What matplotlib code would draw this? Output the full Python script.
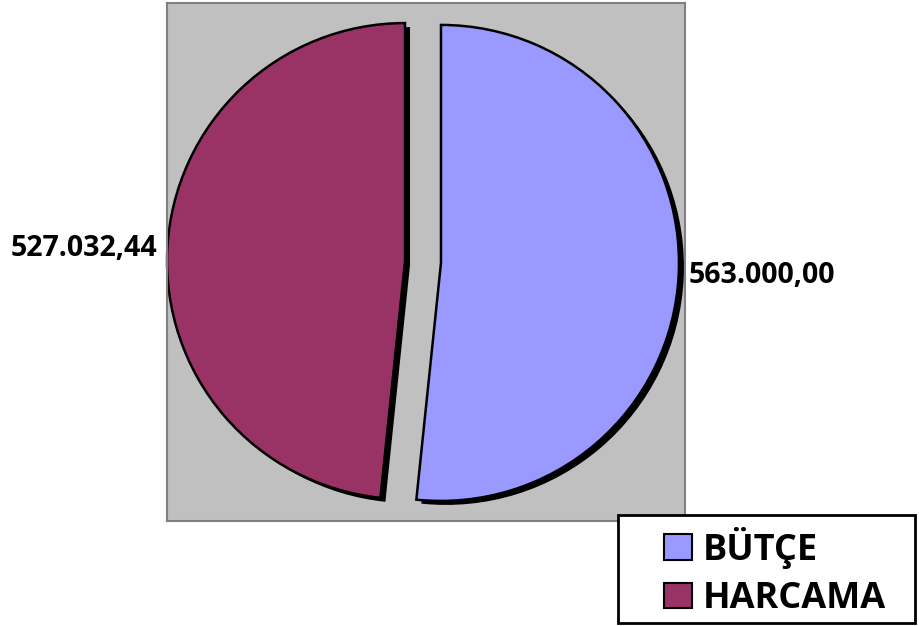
import matplotlib
matplotlib.use("Agg")
import matplotlib.pyplot as plt
from matplotlib.patches import Patch, Rectangle

categories = ['BÜTÇE', 'HARCAMA']
values = [563000.00, 527032.44]
colors = ['#9999FF', '#993366']


def tr_fmt(v):
    s = f"{v:,.2f}"
    return s.replace(',', 'X').replace('.', ',').replace('X', '.')


W, H = 920, 626
fig = plt.figure(figsize=(W / 100, H / 100), dpi=100)
fig.patch.set_facecolor('white')

ax = fig.add_axes([167 / W, (H - 521) / H, 518 / W, 518 / H])
ax.set_facecolor('#C0C0C0')

R = 238
explode = [18, 18]
FONT = 'Open Sans'

# shadow
ax.pie(values, radius=R, center=(5, -4), startangle=90, counterclock=False,
       explode=explode, colors=['black', 'black'], frame=True,
       wedgeprops=dict(linewidth=0))
# main pie
ax.pie(values, radius=R, center=(0, 0), startangle=90, counterclock=False,
       explode=explode, colors=colors,
       labels=[tr_fmt(v) for v in values], labeldistance=1.04,
       textprops=dict(fontsize=20.5, fontweight='bold', family=FONT, color='black'),
       wedgeprops=dict(edgecolor='black', linewidth=1.8), frame=True)

ax.set_xlim(-256, 262)
ax.set_ylim(-259, 259)
ax.set_aspect('equal')
ax.set_xticks([])
ax.set_yticks([])
for s in ax.spines.values():
    s.set_color('#808080')
    s.set_linewidth(1.5)

# legend frame
fig.patches.append(Rectangle((618 / W, (H - 623) / H), (915 - 618) / W, (623 - 515) / H,
                             transform=fig.transFigure, facecolor='white',
                             edgecolor='black', linewidth=2, zorder=1))
handles = [Patch(facecolor=c, edgecolor='black', linewidth=1.5) for c in colors]
leg = fig.legend(handles, categories, loc='center left',
                 bbox_to_anchor=(664 / W, (H - 572) / H),
                 frameon=False, prop=dict(family=FONT, weight='bold', size=26),
                 handlelength=0.78, handleheight=0.7, handletextpad=0.3,
                 labelspacing=0.35, borderpad=0, borderaxespad=0)
leg.set_zorder(2)

fig.savefig('out.png', dpi=100, facecolor='white')
